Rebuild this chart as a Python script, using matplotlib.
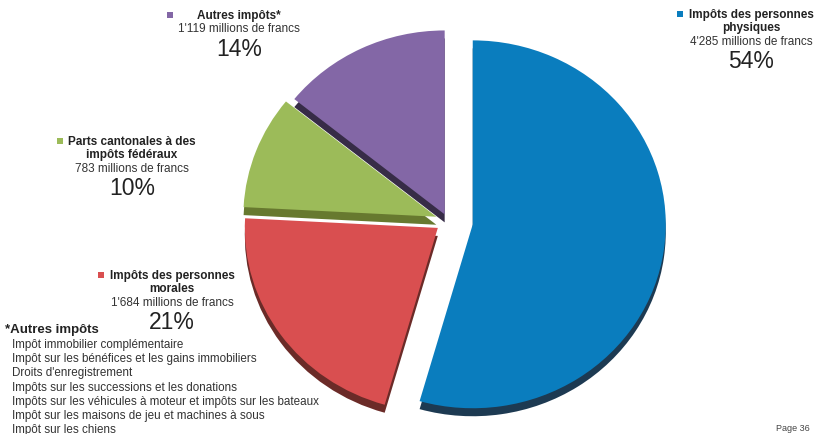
import matplotlib
matplotlib.use("Agg")
import matplotlib.pyplot as plt

plt.rcParams['font.family'] = ['Liberation Sans', 'DejaVu Sans']

# recettes fiscales, en millions de francs
categories = ["Impôts des personnes physiques", "Impôts des personnes morales",
              "Parts cantonales à des impôts fédéraux", "Autres impôts*"]
montants = [4285, 1684, 783, 1119]
pourcents = ["54%", "21%", "10%", "14%"]
montant_txt = ["4'285 millions de francs", "1'684 millions de francs",
               "783 millions de francs", "1'119 millions de francs"]
titres = [["Impôts des personnes", "physiques"],
          ["Impôts des personnes", "morales"],
          ["Parts cantonales à des", "impôts fédéraux"],
          ["Autres impôts*"]]
autres_impots = ["Impôt immobilier complémentaire",
                 "Impôt sur les bénéfices et les gains immobiliers",
                 "Droits d'enregistrement",
                 "Impôts sur les successions et les donations",
                 "Impôts sur les véhicules à moteur et impôts sur les bateaux",
                 "Impôt sur les maisons de jeu et machines à sous",
                 "Impôt sur les chiens"]

couleurs = ["#0a7dbe", "#d94f50", "#9cbb59", "#8367a6"]
cotes = ["#1d3a52", "#6b2b28", "#67792f", "#372c47"]
decalage = [25, 12.5, 12.5, 7.7]

W, H = 815, 435
SY = 0.953  # léger écrasement vertical (effet 3D)


def py(y):
    return (H - y) / SY


fig = plt.figure(figsize=(W / 100, H / 100), dpi=100)
ax = fig.add_axes([0, 0, 1, 1])

# épaisseur du camembert : copie sombre décalée vers le bas
ax.pie(montants, explode=decalage, colors=cotes, startangle=90, counterclock=False,
       radius=193, center=(448, py(230)), wedgeprops=dict(linewidth=0), frame=False)
ax.pie(montants, explode=decalage, colors=couleurs, startangle=90, counterclock=False,
       radius=193, center=(448, py(222)), wedgeprops=dict(linewidth=0), frame=False)
ax.set_xlim(0, W)
ax.set_ylim(0, H / SY)
ax.set_aspect('auto')
ax.axis('off')

# calque des textes, en pixels
tx = fig.add_axes([0, 0, 1, 1])
tx.set_xlim(0, W)
tx.set_ylim(H, 0)
tx.axis('off')

# x centre, y titre, x du carré
positions = [(751, 15, 680), (172, 276, 101), (132, 142, 60), (239, 16, 170)]
for i, (xc, y0, xm) in enumerate(positions):
    tx.scatter([xm], [y0], marker='s', s=18, color=couleurs[i], linewidths=0)
    y = y0
    for ligne in titres[i]:
        tx.text(xc, y, ligne, ha='center', va='center', fontsize=8.5,
                fontweight='bold', color='#222222')
        y += 13.5
    tx.text(xc, y, montant_txt[i], ha='center', va='center', fontsize=8.5,
            color='#333333')
    tx.text(xc, y + 20, pourcents[i], ha='center', va='center', fontsize=16.5,
            color='#222222')

tx.text(5, 330, "*Autres impôts", ha='left', va='center', fontsize=9.5,
        fontweight='bold', color='#222222')
for k, nom in enumerate(autres_impots):
    tx.text(12, 345 + k * 14.2, nom, ha='left', va='center', fontsize=8.35,
            color='#333333')

tx.text(810, 429, "Page 36", ha='right', va='center', fontsize=6.5, color='#444444')

fig.savefig("out.png", dpi=100)
